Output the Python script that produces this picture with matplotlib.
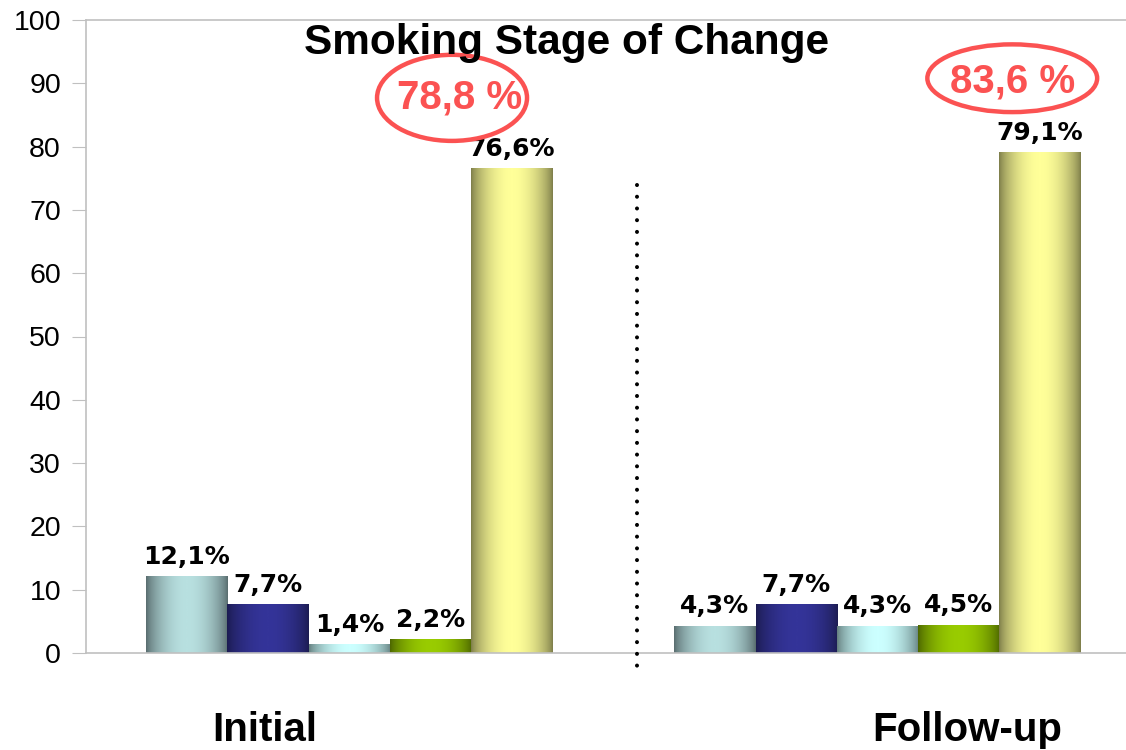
import numpy as np
import matplotlib
matplotlib.use("Agg")
import matplotlib.pyplot as plt
from matplotlib.colors import LinearSegmentedColormap
from matplotlib.patches import Ellipse

# ---- data ----
groups = ["Initial", "Follow-up"]
initial_vals = [12.1, 7.7, 1.4, 2.2, 76.6]
followup_vals = [4.3, 7.7, 4.3, 4.5, 79.1]
initial_labels = ["12,1%", "7,7%", "1,4%", "2,2%", "76,6%"]
followup_labels = ["4,3%", "7,7%", "4,3%", "4,5%", "79,1%"]
highlight_labels = ["78,8 %", "83,6 %"]
title = "Smoking Stage of Change"
yticks = list(range(0, 101, 10))

# gradient colours per series: (edge, centre)
series_colors = [
    ("#56696b", "#b8e0e0"),
    ("#1b1b4f", "#343499"),
    ("#627c7c", "#ccffff"),
    ("#4a6300", "#99cc00"),
    ("#7a7a48", "#ffff99"),
]

fig = plt.figure(figsize=(11.26, 7.5), dpi=100)
ax = fig.add_axes([86 / 1126, 97 / 750, 1040 / 1126, 633 / 750])

group_centers = [3.24, 9.74]
offsets = [-2, -1, 0, 1, 2]
width = 1.0

xs = np.linspace(0, 1, 256)
profile = np.sin(np.pi * xs) ** 0.7
grad = profile.reshape(1, -1)

for gc, vals, labs in zip(group_centers, [initial_vals, followup_vals],
                          [initial_labels, followup_labels]):
    xpos = [gc + o for o in offsets]
    bars = ax.bar(xpos, vals, width=width, color="none", edgecolor="none", zorder=2)
    for b, (edge, centre), lab in zip(bars, series_colors, labs):
        cmap = LinearSegmentedColormap.from_list("g", [edge, centre])
        x0 = b.get_x()
        h = b.get_height()
        im = ax.imshow(grad, extent=(x0, x0 + b.get_width(), 0, h), cmap=cmap,
                       aspect="auto", vmin=0, vmax=1, zorder=2, interpolation="bicubic")
        im.set_clip_path(b)
        ax.annotate(lab, (x0 + b.get_width() / 2, h), xytext=(0, 9),
                    textcoords="offset points", ha="center", va="baseline",
                    fontsize=18, fontweight="bold", family="DejaVu Sans", color="black")

ax.set_xlim(0, 12.8)
ax.set_ylim(0, 100)
ax.set_yticks(yticks)
ax.set_xticks([])
ax.tick_params(axis="y", length=10, color="#c0c0c0", pad=8, labelsize=20.5)
for lbl in ax.get_yticklabels():
    lbl.set_family("Liberation Sans")
for s in ["left", "bottom", "top"]:
    ax.spines[s].set_color("#c0c0c0")
    ax.spines[s].set_linewidth(1.2)
ax.spines["right"].set_visible(False)

# dotted separator
ax.plot([6.78, 6.78], [73.9, -2.6], color="black", linewidth=2.9,
        linestyle=(0, (0.01, 2.9)), dash_capstyle="round", clip_on=False, zorder=3)

# highlight ellipses
red = "#fb5252"
ax.add_patch(Ellipse((4.505, 87.7), 1.846, 13.6, fill=False, edgecolor=red,
                     linewidth=3.2, clip_on=False, zorder=4))
ax.add_patch(Ellipse((11.40, 90.8), 2.09, 10.7, fill=False, edgecolor=red,
                     linewidth=3.2, clip_on=False, zorder=4))
ax.text(4.60, 87.8, highlight_labels[0], ha="center", va="center", fontsize=29,
        fontweight="bold", family="Liberation Sans", color=red, zorder=5)
ax.text(11.40, 90.3, highlight_labels[1], ha="center", va="center", fontsize=29,
        fontweight="bold", family="Liberation Sans", color=red, zorder=5)

# title
fig.text(566.5 / 1126, (750 - 54) / 750, title, ha="center", va="baseline",
         fontsize=30.5, fontweight="bold", family="Liberation Sans")

# category labels
for x, g in zip([264.5, 967.5], groups):
    fig.text(x / 1126, (750 - 741) / 750, g, ha="center", va="baseline",
             fontsize=29, fontweight="bold", family="Liberation Sans")

fig.savefig("out.png", dpi=100)
